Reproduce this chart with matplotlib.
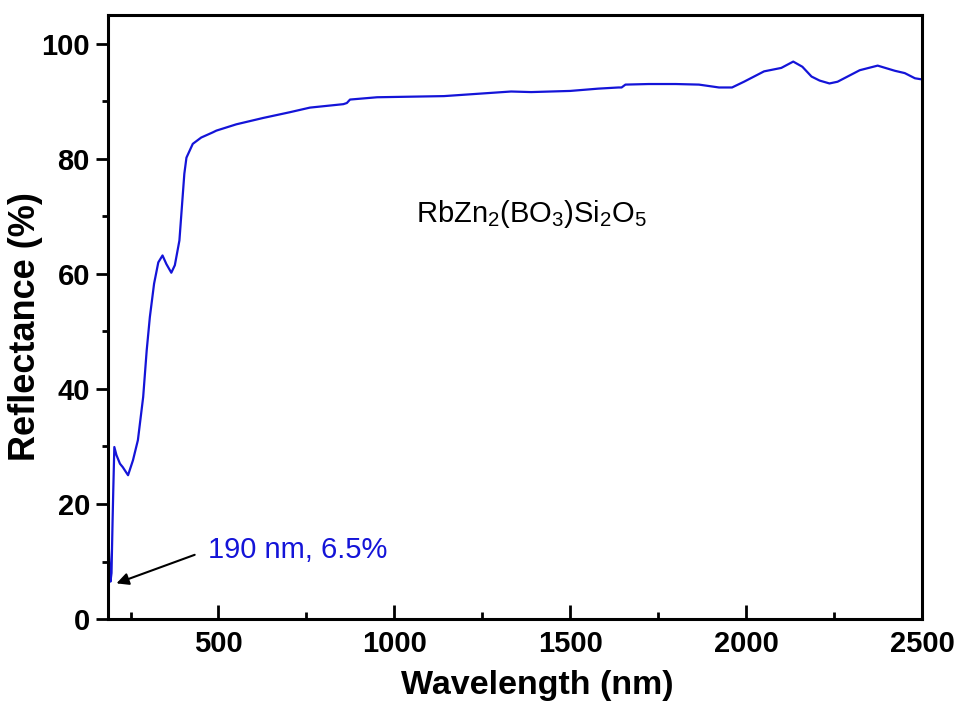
import matplotlib
matplotlib.use("Agg")
import matplotlib.pyplot as plt
from matplotlib.ticker import MultipleLocator

plt.rcParams['font.family'] = ['Liberation Sans', 'DejaVu Sans']
plt.rcParams['mathtext.fontset'] = 'custom'
plt.rcParams['mathtext.rm'] = 'Liberation Sans'
plt.rcParams['mathtext.default'] = 'regular'

wavelength = [187, 190, 193, 196, 199, 201, 204, 210, 220, 228, 243, 257, 271, 286, 296,
              305, 317, 329, 341, 352, 366, 376, 389, 403, 409, 427, 451, 484, 494, 551, 627,
              703, 760, 855, 865, 874, 951, 1141, 1332, 1389, 1500, 1580, 1637, 1646, 1657,
              1723, 1800, 1866, 1923, 1960, 1994, 2051, 2100, 2134, 2160, 2186, 2209, 2237,
              2260, 2323, 2374, 2423, 2451, 2480, 2500]
reflectance = [14.5, 10.0, 6.5, 8.0, 17.0, 22.4, 29.9, 28.5, 27.0, 26.4, 25.0, 27.6, 31.1, 38.6, 46.7,
               52.5, 58.3, 62.0, 63.2, 61.7, 60.2, 61.5, 65.8, 77.4, 80.2, 82.6, 83.7, 84.6, 84.9, 86.0, 87.1,
               88.1, 88.9, 89.5, 89.7, 90.3, 90.7, 90.9, 91.7, 91.6, 91.8, 92.2, 92.4, 92.4, 92.9,
               93.0, 93.0, 92.9, 92.4, 92.4, 93.4, 95.2, 95.8, 96.9, 96.0, 94.3, 93.6, 93.1,
               93.4, 95.4, 96.2, 95.3, 94.9, 94.0, 93.8]

formula = r'RbZn$_2$(BO$_3$)Si$_2$O$_5$'
annotation = '190 nm, 6.5%'
xlabel = 'Wavelength (nm)'
ylabel = 'Reflectance (%)'

fig = plt.figure(figsize=(9.6, 7.04), dpi=100)
ax = fig.add_axes([0.1125, 0.1207, 0.8479, 0.858])
ax.plot(wavelength, reflectance, color='#1414d8', lw=1.6)
ax.set_xlim(186, 2500)
ax.set_ylim(0, 105)

ax.xaxis.set_major_locator(MultipleLocator(500))
ax.xaxis.set_minor_locator(MultipleLocator(250))
ax.yaxis.set_major_locator(MultipleLocator(20))
ax.yaxis.set_minor_locator(MultipleLocator(10))

for s in ax.spines.values():
    s.set_linewidth(2.2)
ax.tick_params(axis='x', which='major', direction='in', length=10, width=2, labelsize=21, pad=8)
ax.tick_params(axis='x', which='minor', direction='in', length=5, width=2)
ax.tick_params(axis='y', which='major', direction='out', length=9, width=2, labelsize=21, pad=4)
ax.tick_params(axis='y', which='minor', direction='out', length=4.5, width=2)
for lab in ax.get_xticklabels() + ax.get_yticklabels():
    lab.set_fontweight('bold')

ax.set_xlabel(xlabel, fontsize=24.5, fontweight='bold')
ax.set_ylabel(ylabel, fontsize=26, fontweight='bold')
ax.xaxis.set_label_coords(0.528, -0.085)
ax.yaxis.set_label_coords(-0.080, 0.485)

ax.text(0.52, 0.67, formula, transform=ax.transAxes, fontsize=21, ha='center', va='center')
ax.annotate(annotation, xy=(210, 6.2), xytext=(470, 12.0), fontsize=21, color='#1414d8',
            ha='left', va='center',
            arrowprops=dict(arrowstyle='-|>', color='black', lw=1.5, shrinkA=8, shrinkB=0,
                            mutation_scale=18, relpos=(0, 0.5)))

fig.savefig('out.png', dpi=100)
